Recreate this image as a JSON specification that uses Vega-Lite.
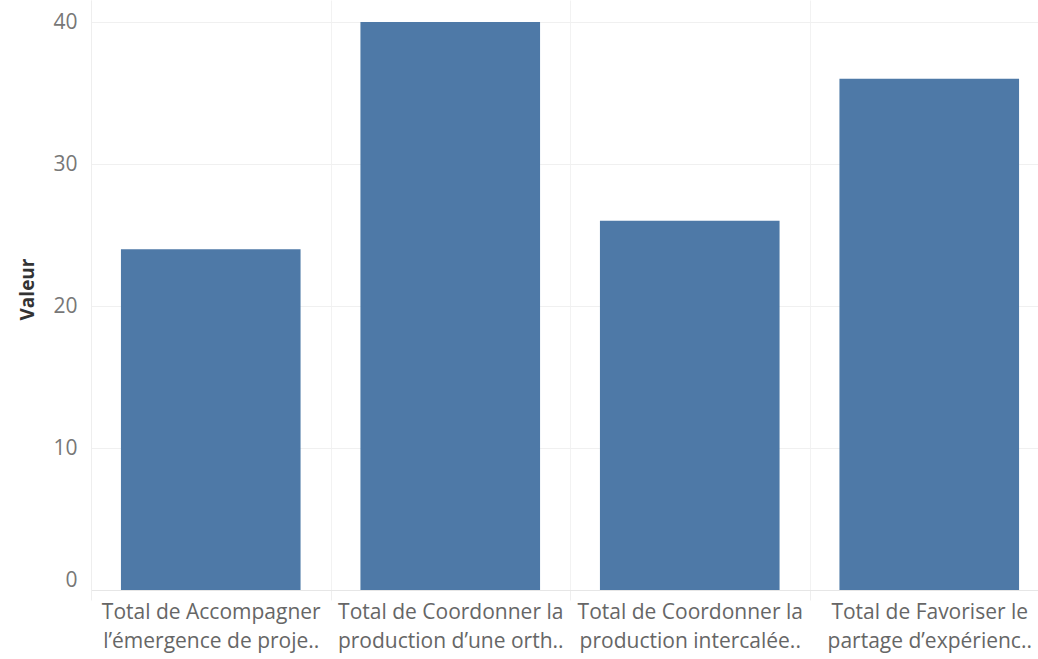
{
  "$schema": "https://vega.github.io/schema/vega-lite/v6.json",
  "width": 958,
  "height": 590,
  "autosize": {"type": "none"},
  "padding": {"left": 91, "top": 0, "right": 0, "bottom": 69},
  "background": "white",
  "data": {
    "values": [
      {"mesure": "Total de Accompagner|l’émergence de proje..", "valeur": 24},
      {"mesure": "Total de Coordonner la|production d’une orth..", "valeur": 40},
      {"mesure": "Total de Coordonner la|production intercalée..", "valeur": 26},
      {"mesure": "Total de Favoriser le|partage d’expérienc..", "valeur": 36}
    ]
  },
  "mark": {"type": "bar", "color": "#4e79a7", "width": {"band": 0.75}},
  "encoding": {
    "x": {
      "field": "mesure",
      "type": "nominal",
      "sort": null,
      "title": null,
      "scale": {"paddingInner": 0, "paddingOuter": 0},
      "axis": {
        "labelAngle": 0,
        "labelExpr": "split(datum.label, '|')",
        "labelFont": "Open Sans",
        "labelFontSize": 21,
        "labelColor": "#666666",
        "labelLineHeight": 29,
        "labelPadding": 1,
        "labelLimit": 0,
        "tickBand": "extent",
        "ticks": true,
        "tickSize": 10,
        "tickColor": "#eeeeee",
        "grid": true,
        "gridColor": "#f2f2f2",
        "domain": true,
        "domainColor": "#e6e6e6"
      }
    },
    "y": {
      "field": "valeur",
      "type": "quantitative",
      "title": "Valeur",
      "scale": {"domain": [0, 41.55], "nice": false, "zero": true},
      "axis": {
        "values": [0, 10, 20, 30, 40],
        "labelFont": "Open Sans",
        "labelFontSize": 21,
        "labelColor": "#777777",
        "labelPadding": 14,
        "labelFlush": true,
        "ticks": false,
        "grid": true,
        "gridColor": "#f0f0f0",
        "domain": true,
        "domainColor": "#eeeeee",
        "titleFont": "Open Sans",
        "titleFontSize": 19,
        "titleFontWeight": "bold",
        "titleColor": "#333333",
        "titlePadding": 15,
        "titleY": 289
      }
    }
  },
  "config": {"view": {"stroke": null}}
}
